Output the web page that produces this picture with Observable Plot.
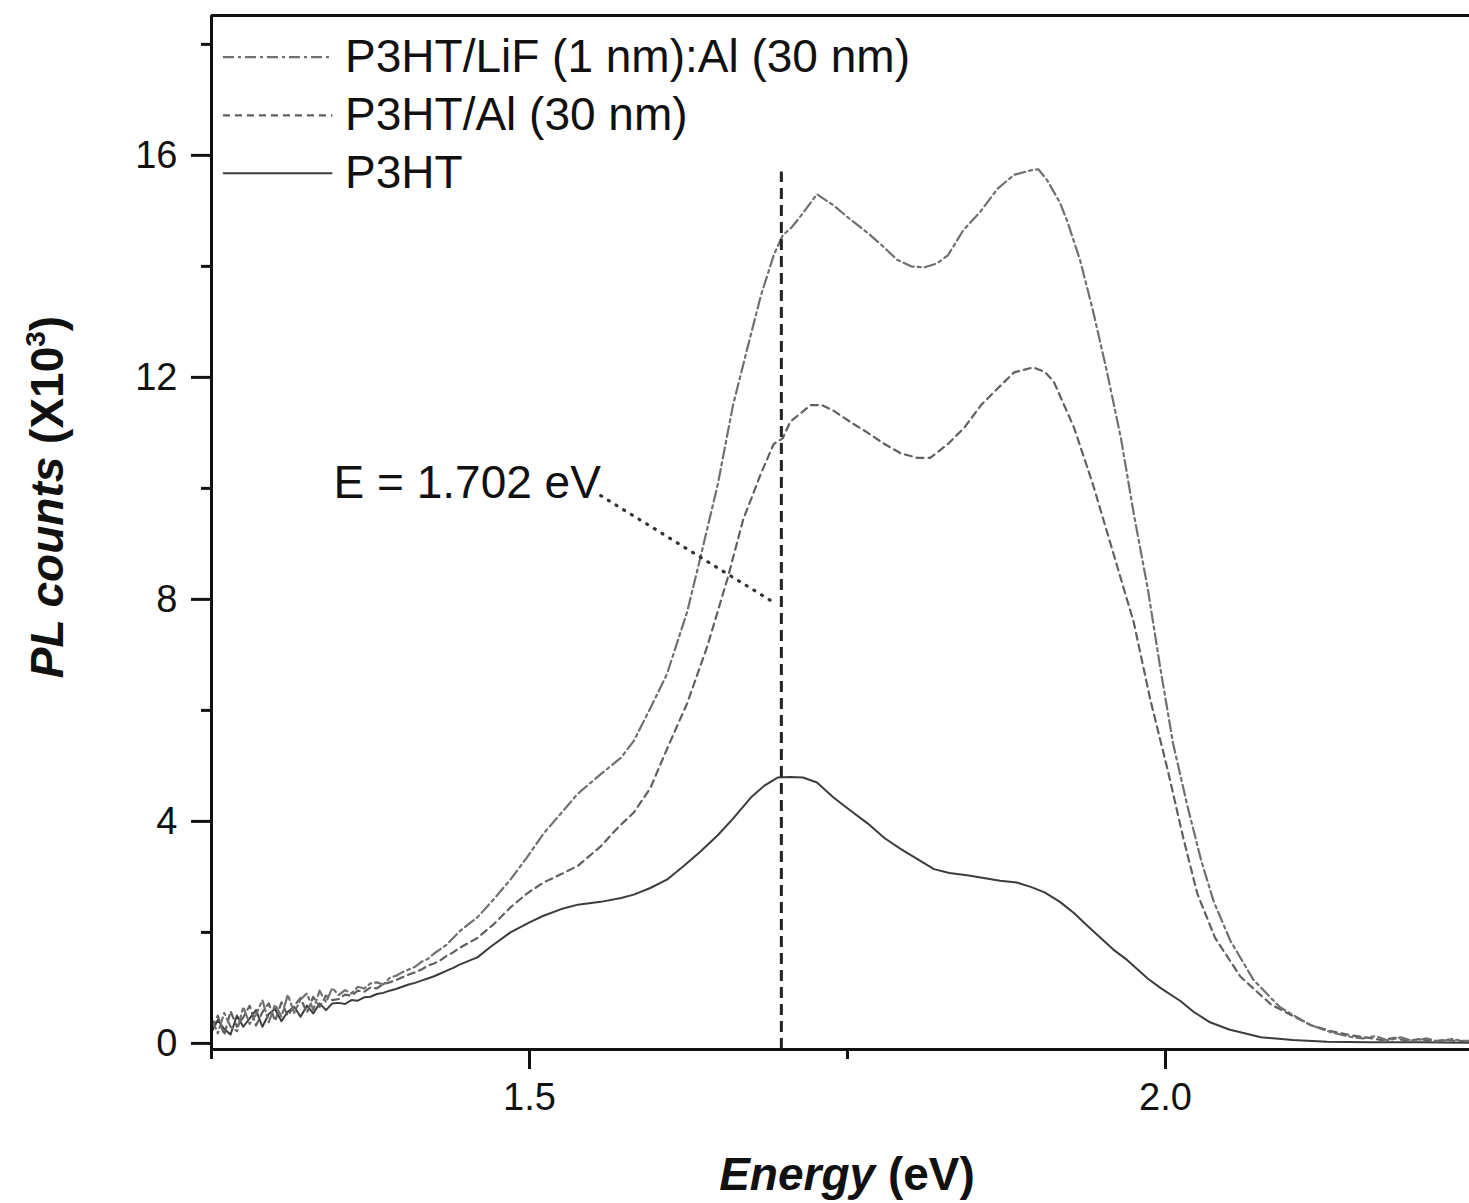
<!DOCTYPE html>
<html>
<head>
<meta charset="utf-8">
<script src="https://cdn.jsdelivr.net/npm/d3@7"></script>
<script src="https://cdn.jsdelivr.net/npm/@observablehq/plot@0.6"></script>
<style>
  html, body { margin: 0; padding: 0; background: #fff; overflow: hidden; }
  #chart { width: 1469px; height: 1203px; overflow: hidden; }
  #chart svg { max-width: none !important; }
</style>
</head>
<body>
<div id="chart"></div>
<script>
// ---- Series names ----
const seriesNames = ["P3HT/LiF (1 nm):Al (30 nm)", "P3HT/Al (30 nm)", "P3HT"];

// ---- Low-energy grid shared by the noisy region ----
const energyLow = [1.250,1.255,1.260,1.265,1.270,1.275,1.280,1.285,1.290,1.295,
  1.300,1.305,1.310,1.315,1.320,1.325,1.330,1.335,1.340,1.345,
  1.350,1.355,1.360,1.365,1.370,1.375,1.380,1.385,1.390,1.395,
  1.400,1.405,1.410,1.415,1.420,1.425,1.430,1.435,1.440,1.445];

// ---- P3HT/LiF (1 nm):Al (30 nm) ----
const countsLiFLow = [0.45,0.18,0.55,0.30,0.22,0.66,0.35,0.52,0.78,0.38,
  0.70,0.48,0.88,0.55,0.79,0.90,0.60,0.95,0.74,1.00,
  0.87,0.96,0.90,1.02,0.99,1.08,1.10,1.06,1.18,1.22,
  1.28,1.33,1.38,1.47,1.52,1.62,1.70,1.78,1.90,2.02];
const energyLiF = [1.459,1.472,1.485,1.498,1.511,1.525,1.538,1.556,1.572,1.582,
  1.595,1.608,1.624,1.634,1.648,1.660,1.671,1.682,1.692,1.699,
  1.706,1.713,1.726,1.739,1.752,1.766,1.776,1.789,1.800,1.810,
  1.820,1.829,1.841,1.855,1.868,1.881,1.894,1.900,1.907,1.917,
  1.923,1.933,1.943,1.954,1.965,1.975,1.986,1.996,2.006,2.017,
  2.028,2.038,2.051,2.069,2.090,2.114,2.130,2.145,2.155,2.165,
  2.175,2.185,2.195,2.205,2.215,2.225,2.235,2.245];
const countsLiF = [2.27,2.60,2.95,3.35,3.78,4.15,4.50,4.85,5.15,5.45,
  6.04,6.65,7.78,8.72,10.07,11.50,12.50,13.48,14.20,14.56,
  14.70,14.90,15.30,15.10,14.85,14.60,14.40,14.12,14.00,13.98,
  14.05,14.20,14.65,15.00,15.40,15.65,15.73,15.75,15.55,15.15,
  14.80,14.10,13.20,12.10,10.90,9.55,8.20,6.75,5.40,4.30,
  3.30,2.55,1.85,1.15,0.65,0.33,0.20,0.12,0.09,0.13,
  0.05,0.11,0.04,0.09,0.03,0.08,0.04,0.06];

// ---- P3HT/Al (30 nm) ----
const countsAlLow = [0.28,0.50,0.15,0.58,0.30,0.47,0.68,0.32,0.56,0.72,
  0.40,0.74,0.50,0.68,0.82,0.55,0.84,0.66,0.86,0.78,
  0.80,0.88,0.86,0.95,0.93,1.01,0.99,1.07,1.10,1.14,
  1.19,1.24,1.28,1.33,1.40,1.44,1.50,1.58,1.64,1.72];
const energyAl = [1.459,1.472,1.485,1.498,1.511,1.525,1.538,1.556,1.570,1.582,
  1.595,1.608,1.624,1.640,1.656,1.668,1.682,1.692,1.699,1.705,
  1.721,1.730,1.739,1.752,1.766,1.779,1.792,1.805,1.815,1.829,
  1.842,1.855,1.868,1.881,1.896,1.905,1.912,1.928,1.943,1.959,
  1.975,1.988,2.002,2.014,2.025,2.039,2.059,2.083,2.114,2.130,
  2.145,2.160,2.170,2.180,2.190,2.200,2.210,2.220,2.230,2.240];
const countsAl = [1.90,2.15,2.45,2.70,2.90,3.05,3.20,3.55,3.90,4.16,
  4.60,5.30,6.13,7.17,8.40,9.44,10.27,10.80,10.90,11.20,
  11.50,11.50,11.40,11.20,11.00,10.80,10.63,10.55,10.55,10.80,
  11.10,11.50,11.80,12.09,12.18,12.10,11.93,11.10,10.07,8.83,
  7.59,6.20,4.90,3.70,2.70,1.90,1.20,0.70,0.33,0.22,
  0.15,0.10,0.06,0.10,0.04,0.08,0.03,0.07,0.04,0.05];

// ---- P3HT ----
const countsP3HTLow = [0.20,0.42,0.26,0.16,0.50,0.30,0.45,0.60,0.30,0.53,
  0.62,0.40,0.57,0.66,0.48,0.68,0.54,0.72,0.60,0.72,
  0.73,0.71,0.78,0.77,0.83,0.84,0.89,0.91,0.95,0.98,
  1.02,1.06,1.09,1.13,1.17,1.21,1.26,1.31,1.36,1.42];
const energyP3HT = [1.459,1.470,1.485,1.500,1.511,1.525,1.538,1.556,1.572,1.582,
  1.595,1.608,1.621,1.634,1.648,1.660,1.674,1.685,1.695,1.705,
  1.715,1.726,1.739,1.752,1.766,1.779,1.792,1.805,1.818,1.830,
  1.844,1.857,1.870,1.883,1.894,1.905,1.917,1.928,1.939,1.951,
  1.959,1.970,1.986,1.996,2.012,2.022,2.035,2.050,2.075,2.100,
  2.127,2.160,2.200,2.245];
const countsP3HT = [1.55,1.75,2.00,2.18,2.30,2.42,2.50,2.55,2.62,2.68,
  2.80,2.95,3.19,3.45,3.75,4.05,4.43,4.65,4.79,4.80,
  4.79,4.70,4.43,4.20,3.96,3.70,3.50,3.32,3.14,3.07,
  3.03,2.98,2.93,2.90,2.82,2.72,2.55,2.35,2.11,1.86,
  1.69,1.50,1.17,1.00,0.76,0.57,0.38,0.25,0.11,0.06,
  0.03,0.02,0.02,0.01];

// ---- Axis ticks ----
const xMajorTicks = [1.5, 2.0];
const xMinorTicks = [1.25, 1.75, 2.25];
const yMajorTicks = [0, 4, 8, 12, 16];
const yMinorTicks = [2, 6, 10, 14, 18];
const xDomain = [1.25, 2.25];
const yDomain = [-0.11, 18.52];

// ---- Annotation ----
const peakLabel = "E = 1.702 eV";
const peakLineE = [1.698];
const peakLineTop = 15.7;
const leader = [{x1: 1.556, y1: 9.87, x2: 1.693, y2: 7.93}];
const labelPos = {x: 1.346, y: 10.1};

// ---- Legend placement (data units) ----
const legendY = [17.77, 16.72, 15.68];
const legendX = {x1: 1.259, x2: 1.345, text: 1.355};

// build tables
const toRows = (es, vs) => es.map((e, i) => ({e, v: vs[i]})).filter(d => d.v !== undefined);
const dataLiF = toRows(energyLow.concat(energyLiF), countsLiFLow.concat(countsLiF));
const dataAl = toRows(energyLow.concat(energyAl), countsAlLow.concat(countsAl));
const dataP3HT = toRows(energyLow.concat(energyP3HT), countsP3HTLow.concat(countsP3HT));

const styles = [
  {stroke: "#707070", strokeWidth: 2.2, strokeDasharray: "11,4,3,4"},
  {stroke: "#606060", strokeWidth: 2.2, strokeDasharray: "7,5"},
  {stroke: "#3c3c3c", strokeWidth: 2, strokeDasharray: null}
];

const legendRows = seriesNames.map((name, i) => ({name, y: legendY[i], i}));

const font = "'Liberation Sans', Arial, Helvetica, sans-serif";

const plot = Plot.plot({
  width: 1500,
  height: 1203,
  marginLeft: 211,
  marginRight: 17,
  marginTop: 15,
  marginBottom: 154,
  x: {domain: xDomain},
  y: {domain: yDomain},
  style: {fontFamily: font, background: "#fff", color: "#111", maxWidth: "none"},
  marks: [
    Plot.axisX(xMajorTicks, {tickSize: 20, tickPadding: 14, fontSize: 38, strokeWidth: 3, tickFormat: d3.format(".1f"), label: null}),
    Plot.axisX(xMinorTicks, {tickSize: 10, strokeWidth: 3, tickFormat: () => "", label: null}),
    Plot.axisY(yMajorTicks, {tickSize: 20, tickPadding: 14, fontSize: 38, strokeWidth: 3, tickFormat: d3.format("d"), label: null}),
    Plot.axisY(yMinorTicks, {tickSize: 10, strokeWidth: 3, tickFormat: () => "", label: null}),
    Plot.line(dataP3HT, {x: "e", y: "v", ...styles[2]}),
    Plot.line(dataAl, {x: "e", y: "v", ...styles[1]}),
    Plot.line(dataLiF, {x: "e", y: "v", ...styles[0]}),
    Plot.ruleX(peakLineE, {y1: yDomain[0], y2: peakLineTop, stroke: "#222", strokeWidth: 3, strokeDasharray: "11,6"}),
    Plot.link(leader, {x1: "x1", y1: "y1", x2: "x2", y2: "y2", stroke: "#333", strokeWidth: 3.2, strokeDasharray: "1,8", strokeLinecap: "round"}),
    Plot.text([peakLabel], {x: labelPos.x, y: labelPos.y, text: d => d, textAnchor: "start", fontSize: 46, fill: "#111"}),
    // legend
    ...legendRows.map(r => Plot.link([r], {x1: legendX.x1, x2: legendX.x2, y1: "y", y2: "y", ...styles[r.i]})),
    Plot.text(legendRows, {x: legendX.text, y: "y", text: "name", textAnchor: "start", fontSize: 46, fill: "#111"}),
    // frame lines
    Plot.ruleX([xDomain[0]], {strokeWidth: 3, stroke: "#111"}),
    Plot.ruleY([yDomain[0]], {strokeWidth: 3, stroke: "#111"}),
    Plot.ruleY([yDomain[1]], {strokeWidth: 3, stroke: "#111"})
  ]
});

document.getElementById("chart").appendChild(plot);

// axis titles with mixed styling
const svg = d3.select(plot);
const xt = svg.append("text")
  .attr("x", 847).attr("y", 1190)
  .attr("text-anchor", "middle")
  .attr("font-family", font).attr("font-size", 46).attr("font-weight", "bold").attr("fill", "#111");
xt.append("tspan").attr("font-style", "italic").text("Energy");
xt.append("tspan").text(" (eV)");

const yt = svg.append("text")
  .attr("transform", "translate(63,497) rotate(-90)")
  .attr("text-anchor", "middle")
  .attr("font-family", font).attr("font-size", 46).attr("font-weight", "bold").attr("fill", "#111");
yt.append("tspan").attr("font-style", "italic").text("PL counts");
yt.append("tspan").text(" (X10");
yt.append("tspan").attr("font-size", 28).attr("dy", -18).text("3");
yt.append("tspan").attr("dy", 18).text(")");
</script>
</body>
</html>
